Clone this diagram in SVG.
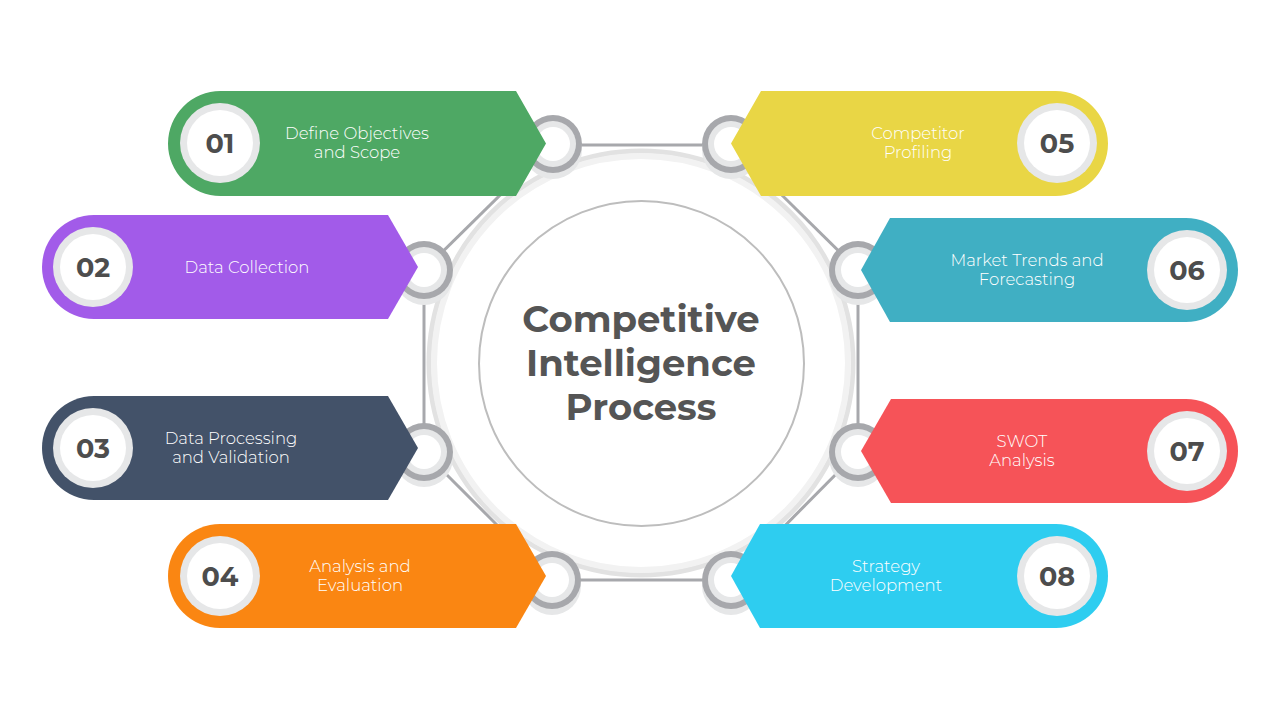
<svg xmlns="http://www.w3.org/2000/svg" width="1280" height="720" viewBox="0 0 1280 720">
<defs>
<style>
.lbl{font-family:Montserrat,Lato,"Open Sans","Liberation Sans",sans-serif;font-weight:300;font-size:16.5px;fill:#ffffff;text-anchor:middle}
.num{font-family:Montserrat,"Open Sans","Liberation Sans",sans-serif;font-weight:700;font-size:27px;fill:#4d4d4d;text-anchor:middle}
.title{font-family:Montserrat,"Open Sans","Liberation Sans",sans-serif;font-weight:700;font-size:37px;fill:#555555;text-anchor:middle}
.conn{stroke:#a7a8ac;stroke-width:3;fill:none}
.rshadow{fill:#e6e7e8}
.router{fill:#a7a8ac}
.rmid{fill:#e6e7e8}
.rin{fill:#ffffff}
.nring{fill:#e6e7e8}
.nin{fill:#ffffff}
</style>
<g id="ring">
<circle class="rshadow" cx="0" cy="6" r="29"/>
<circle class="router" cx="0" cy="0" r="29"/>
<circle class="rmid" cx="0" cy="0" r="23"/>
<circle class="rin" cx="0" cy="0" r="17"/>
</g>
<g id="numc">
<circle class="nring" cx="0" cy="0" r="40"/>
<circle class="nin" cx="0" cy="0" r="33"/>
</g>
</defs>
<rect width="1280" height="720" fill="#ffffff"/>

<g id="hub-ring">
<circle cx="641" cy="363" r="212" fill="none" stroke="#e2e2e2" stroke-width="5"/>
<circle cx="641" cy="363" r="207" fill="none" stroke="#f2f2f2" stroke-width="6"/>
</g>

<g id="connectors">
<line class="conn" x1="553" y1="145" x2="731" y2="145"/>
<line class="conn" x1="553" y1="580" x2="731" y2="580"/>
<line class="conn" x1="551" y1="145" x2="424" y2="270"/>
<line class="conn" x1="424" y1="270" x2="424" y2="452"/>
<line class="conn" x1="424" y1="452" x2="552" y2="580"/>
<line class="conn" x1="731" y1="145" x2="858" y2="270"/>
<line class="conn" x1="858" y1="270" x2="858" y2="452"/>
<line class="conn" x1="858" y1="452" x2="731" y2="580"/>
</g>

<g id="rings">
<use href="#ring" x="553" y="144"/>
<use href="#ring" x="424" y="270"/>
<use href="#ring" x="424" y="452"/>
<use href="#ring" x="552" y="580"/>
<use href="#ring" x="731" y="144"/>
<use href="#ring" x="858" y="270"/>
<use href="#ring" x="858" y="452"/>
<use href="#ring" x="731" y="580"/>
</g>

<g id="center">
<circle cx="641.5" cy="363.5" r="162.5" fill="#ffffff" stroke="#bdbdbd" stroke-width="2"/>
<text class="title" x="641" y="332">Competitive</text>
<text class="title" x="641" y="376">Intelligence</text>
<text class="title" x="641" y="420">Process</text>
</g>

<g id="node-01">
<path d="M220.5,91 H516 L546,143.5 L516,196 H220.5 A52.5,52.5 0 0 1 220.5,91 Z" fill="#4ea864"/>
<use href="#numc" x="220" y="143"/>
<text class="num" x="220" y="152.5">01</text>
<text class="lbl" x="357" y="139">Define Objectives</text>
<text class="lbl" x="357" y="158">and Scope</text>
</g>

<g id="node-02">
<path d="M94,215 H388 L418,267 L388,319 H94 A52,52 0 0 1 94,215 Z" fill="#a25be9"/>
<use href="#numc" x="93" y="267"/>
<text class="num" x="93" y="276.5">02</text>
<text class="lbl" x="247" y="273">Data Collection</text>
</g>

<g id="node-03">
<path d="M94,396 H388 L418,448 L388,500 H94 A52,52 0 0 1 94,396 Z" fill="#435269"/>
<use href="#numc" x="93" y="448"/>
<text class="num" x="93" y="457.5">03</text>
<text class="lbl" x="231" y="444">Data Processing</text>
<text class="lbl" x="231" y="463">and Validation</text>
</g>

<g id="node-04">
<path d="M220,524 H516 L546,576 L516,628 H220 A52,52 0 0 1 220,524 Z" fill="#fa8612"/>
<use href="#numc" x="220" y="576"/>
<text class="num" x="220" y="585.5">04</text>
<text class="lbl" x="360" y="572">Analysis and</text>
<text class="lbl" x="360" y="591">Evaluation</text>
</g>

<g id="node-05">
<path d="M1055.5,91 H761 L731,143.5 L761,196 H1055.5 A52.5,52.5 0 0 0 1055.5,91 Z" fill="#e9d645"/>
<use href="#numc" x="1057" y="143"/>
<text class="num" x="1057" y="152.5">05</text>
<text class="lbl" x="918" y="139">Competitor</text>
<text class="lbl" x="918" y="158">Profiling</text>
</g>

<g id="node-06">
<path d="M1186,218 H890 L861,270 L890,322 H1186 A52,52 0 0 0 1186,218 Z" fill="#40afc3"/>
<use href="#numc" x="1187" y="270"/>
<text class="num" x="1187" y="279.5">06</text>
<text class="lbl" x="1027" y="266">Market Trends and</text>
<text class="lbl" x="1027" y="285">Forecasting</text>
</g>

<g id="node-07">
<path d="M1186,399 H891 L861,451 L891,503 H1186 A52,52 0 0 0 1186,399 Z" fill="#f65358"/>
<use href="#numc" x="1187" y="451"/>
<text class="num" x="1187" y="460.5">07</text>
<text class="lbl" x="1022" y="447">SWOT</text>
<text class="lbl" x="1022" y="466">Analysis</text>
</g>

<g id="node-08">
<path d="M1056,524 H760 L731,576 L760,628 H1056 A52,52 0 0 0 1056,524 Z" fill="#2ecdf0"/>
<use href="#numc" x="1057" y="576"/>
<text class="num" x="1057" y="585.5">08</text>
<text class="lbl" x="886" y="572">Strategy</text>
<text class="lbl" x="886" y="591">Development</text>
</g>
</svg>
